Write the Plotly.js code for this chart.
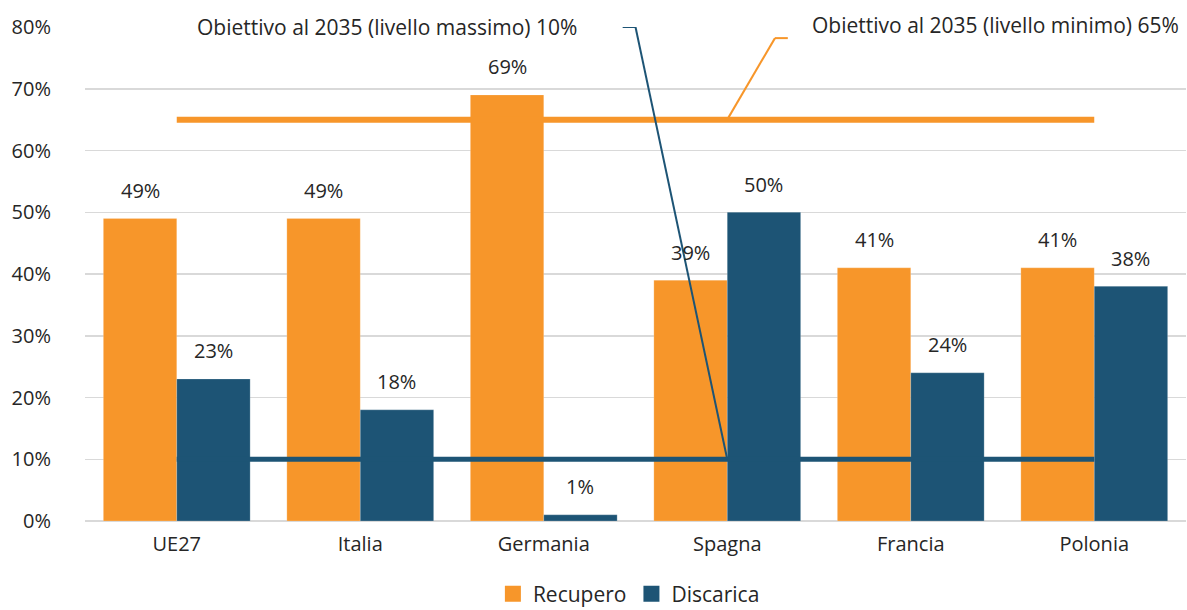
<!DOCTYPE html>
<html>
<head>
<meta charset="utf-8">
<script src="https://cdn.plot.ly/plotly-3.0.1.min.js"></script>
<style>html,body{margin:0;padding:0;background:#fff;}#chart{width:1187px;height:610px;}</style>
</head>
<body>
<div id="chart"></div>
<script>
const categories = ["UE27", "Italia", "Germania", "Spagna", "Francia", "Polonia"];
const recupero = [49, 49, 69, 39, 41, 41];
const discarica = [23, 18, 1, 50, 24, 38];
const targetMin = [65, 65, 65, 65, 65, 65];
const targetMax = [10, 10, 10, 10, 10, 10];
const seriesNames = ["Recupero", "Discarica"];
const targetLabels = ["Obiettivo al 2035 (livello massimo) 10%", "Obiettivo al 2035 (livello minimo) 65%"];
const yTicks = [0, 10, 20, 30, 40, 50, 60, 70, 80];

const ORANGE = "#F7962A";
const BLUE = "#1D5475";
const TXT = "#262626";
const FONT = "'Open Sans', sans-serif";
const FS = 20;

const traces = [
  {type: "bar", name: seriesNames[0], x: categories, y: recupero, marker: {color: ORANGE, line: {color: "rgba(255,255,255,0.4)", width: 0.5}}, hoverinfo: "none", showlegend: false},
  {type: "bar", name: seriesNames[1], x: categories, y: discarica, marker: {color: BLUE, line: {color: "rgba(255,255,255,0.4)", width: 0.5}}, hoverinfo: "none", showlegend: false},
  {type: "scatter", mode: "lines", x: categories, y: targetMin, line: {color: ORANGE, width: 6}, showlegend: false, hoverinfo: "none"},
  {type: "scatter", mode: "lines", x: categories, y: targetMax, line: {color: BLUE, width: 5}, showlegend: false, hoverinfo: "none"},
  {type: "scatter", mode: "markers", name: seriesNames[0], x: [null], y: [null], marker: {symbol: "square", size: 16, color: ORANGE}, showlegend: true, hoverinfo: "none"},
  {type: "scatter", mode: "markers", name: seriesNames[1], x: [null], y: [null], marker: {symbol: "square", size: 16, color: BLUE}, showlegend: true, hoverinfo: "none"}
];

const annotations = [];
categories.forEach((c, i) => {
  annotations.push({x: i - 0.2, y: recupero[i], xref: "x", yref: "y", text: recupero[i] + "%", showarrow: false, yanchor: "middle", yshift: 28, font: {family: FONT, size: FS, color: TXT}});
  annotations.push({x: i + 0.2, y: discarica[i], xref: "x", yref: "y", text: discarica[i] + "%", showarrow: false, yanchor: "middle", yshift: 28, font: {family: FONT, size: FS, color: TXT}});
});
annotations.push({x: 2.19, y: 80, xref: "x", yref: "y", text: targetLabels[0], showarrow: false, xanchor: "right", yanchor: "middle", font: {family: FONT, size: 21, color: TXT}});
annotations.push({x: 3.45, y: 80, xref: "x", yref: "y", text: targetLabels[1], showarrow: false, xanchor: "left", yanchor: "middle", yshift: 2, font: {family: FONT, size: 21, color: TXT}});

const shapes = [
  {type: "line", xref: "x", yref: "y", x0: 3, y0: targetMax[3], x1: 2.5, y1: 80, line: {color: BLUE, width: 2}},
  {type: "line", xref: "x", yref: "y", x0: 2.5, y0: 80, x1: 2.43, y1: 80, line: {color: BLUE, width: 2}},
  {type: "line", xref: "x", yref: "y", x0: 3, y0: targetMin[3], x1: 3.26, y1: 78.2, line: {color: ORANGE, width: 2}},
  {type: "line", xref: "x", yref: "y", x0: 3.26, y0: 78.2, x1: 3.33, y1: 78.2, line: {color: ORANGE, width: 2}}
];

const layout = {
  width: 1187, height: 610,
  margin: {l: 85, r: 1, t: 27, b: 89, autoexpand: false},
  paper_bgcolor: "#fff", plot_bgcolor: "#fff",
  barmode: "group", bargap: 0.2, bargroupgap: 0,
  font: {family: FONT, size: FS, color: TXT},
  xaxis: {type: "category", categoryarray: categories, showgrid: false, showline: false, ticks: "", ticklabelstandoff: 9, tickfont: {family: FONT, size: FS, color: TXT}, fixedrange: true, automargin: false},
  yaxis: {range: [0, 80], tickvals: yTicks, ticktext: yTicks.map(v => v + "%"), showgrid: true, gridcolor: "#d9d9d9", gridwidth: 1.5, zeroline: true, zerolinecolor: "#d9d9d9", zerolinewidth: 2, showline: false, ticks: "", ticklabelstandoff: 33, tickfont: {family: FONT, size: FS, color: TXT}, fixedrange: true, automargin: false},
  legend: {orientation: "h", x: 0.494, xanchor: "center", y: -0.148, yanchor: "middle", font: {family: FONT, size: 21, color: TXT}, itemwidth: 30, traceorder: "normal"},
  annotations: annotations,
  shapes: shapes,
  showlegend: true
};

Plotly.newPlot("chart", traces, layout, {displayModeBar: false, staticPlot: true});
</script>
</body>
</html>
